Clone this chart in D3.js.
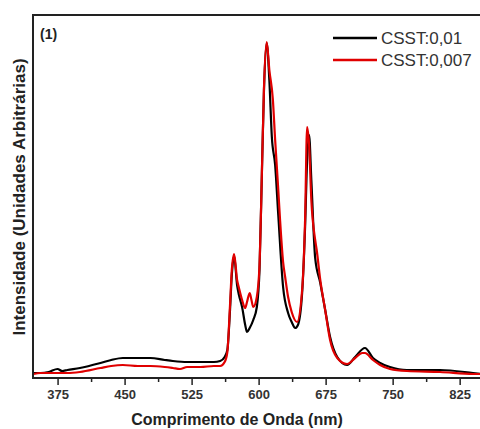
<!DOCTYPE html>
<html>
<head>
<meta charset="utf-8">
<script src="https://cdn.jsdelivr.net/npm/d3@7"></script>
<style>
  body { margin: 0; background: #fff; }
  svg { display: block; font-family: "Liberation Sans", Arial, sans-serif; }
</style>
</head>
<body>
<svg id="chart" width="480" height="429"></svg>
<script>
// wavelengths (nm) and intensities (arbitrary units)
var wlBlack = [348, 356, 365, 375, 380, 386, 400, 423, 435, 448, 465, 479, 495, 504, 520, 535, 550, 557, 562, 565, 568, 570, 572.6, 575.9, 578, 581.5, 585, 587, 590, 594, 598, 601, 604, 606, 609, 612, 614.8, 618.5, 622, 627.4, 633, 637, 641, 644, 648.7, 652, 654.3, 656.5, 659, 663.3, 669, 674.5, 680, 688, 699, 708, 719, 728, 736, 747, 766, 803, 840, 850];
var intBlack = [5, 5, 6, 9, 7, 8, 10, 15, 18, 20, 20, 20, 18, 17, 16, 16, 16, 17, 21, 28, 68, 103, 122, 93, 83, 71, 53, 46, 50, 58, 71, 108, 218, 288, 335, 298, 241, 213, 163, 91, 65, 56, 50, 53, 85, 151, 218, 243, 198, 120, 95, 68, 41, 21, 13, 21, 30, 20, 15, 11, 8, 8, 5, 4];

var wlRed = [348, 356, 375, 386, 400, 423, 435, 448, 465, 479, 495, 504, 512, 520, 535, 550, 557, 562, 565, 568, 570, 572.6, 575.9, 578, 581.5, 584.9, 587, 590, 592, 594, 598, 601, 604, 606, 609, 612, 615.9, 618.5, 622, 624, 627.4, 629.7, 633, 637, 643, 648.7, 652, 654.3, 656.5, 659, 663.3, 665, 669, 674.5, 680, 688, 699, 708, 716, 719, 728, 736, 747, 766, 803, 840, 850];
var intRed = [4, 5, 5, 5, 6, 10, 12, 13, 12, 12, 11, 10, 9, 11, 11, 12, 12, 16, 26, 73, 108, 124, 98, 90, 78, 70, 76, 85, 78, 71, 81, 113, 218, 290, 336, 308, 279, 238, 188, 158, 116, 101, 81, 66, 56, 88, 158, 251, 233, 178, 138, 128, 98, 68, 38, 20, 14, 20, 25, 25, 18, 13, 9, 7, 6, 4, 4];

var majorTicks = [375, 450, 525, 600, 675, 750, 825];
var minorTicks = [412.5, 487.5, 562.5, 637.5, 712.5, 787.5];
var seriesNames = ["CSST:0,01", "CSST:0,007"];
var seriesColors = ["#000000", "#e00000"];

var svg = d3.select("#chart");

var mLeft = 33, mTop = 15, mRight = 482, mBottom = 378;

var x = d3.scaleLinear().domain([347.5, 850]).range([mLeft, mRight]);
var y = d3.scaleLinear().domain([0, 363]).range([mBottom, mTop]);

var line = d3.line()
  .curve(d3.curveMonotoneX)
  .x(function(d) { return x(d[0]); })
  .y(function(d) { return y(d[1]); });

var series = [
  d3.zip(wlBlack, intBlack),
  d3.zip(wlRed, intRed)
];

svg.append("defs").append("clipPath").attr("id", "plotClip")
  .append("rect")
  .attr("x", mLeft).attr("y", mTop)
  .attr("width", mRight - mLeft).attr("height", mBottom - mTop);

series.forEach(function(s, i) {
  svg.append("path")
    .datum(s)
    .attr("clip-path", "url(#plotClip)")
    .attr("fill", "none")
    .attr("stroke", seriesColors[i])
    .attr("stroke-width", 2.2)
    .attr("stroke-linejoin", "round")
    .attr("d", line);
});

// frame (right side falls off the picture)
svg.append("path")
  .attr("d", "M" + mRight + "," + mTop + "H" + mLeft + "V" + mBottom + "H" + mRight)
  .attr("fill", "none")
  .attr("stroke", "#222")
  .attr("stroke-width", 2);

// bottom axis
var xAxis = svg.append("g")
  .attr("transform", "translate(0," + mBottom + ")")
  .call(d3.axisBottom(x).tickValues(majorTicks).tickSize(7).tickPadding(5));
xAxis.select(".domain").remove();
xAxis.selectAll(".tick line").attr("stroke", "#222").attr("stroke-width", 1.5);
xAxis.selectAll(".tick text")
  .attr("font-family", "Liberation Sans, Arial, sans-serif")
  .attr("font-size", 13)
  .attr("font-weight", "bold")
  .attr("fill", "#333");

var xMinor = svg.append("g")
  .attr("transform", "translate(0," + mBottom + ")")
  .call(d3.axisBottom(x).tickValues(minorTicks).tickSize(4).tickFormat(""));
xMinor.select(".domain").remove();
xMinor.selectAll(".tick line").attr("stroke", "#222").attr("stroke-width", 1.5);

// titles
svg.append("text")
  .attr("x", 237).attr("y", 425)
  .attr("text-anchor", "middle")
  .attr("font-size", 16)
  .attr("font-weight", "bold")
  .attr("fill", "#222")
  .text("Comprimento de Onda (nm)");

svg.append("text")
  .attr("transform", "translate(25,197) rotate(-90)")
  .attr("text-anchor", "middle")
  .attr("font-size", 17)
  .attr("font-weight", "bold")
  .attr("fill", "#222")
  .text("Intensidade (Unidades Arbitrárias)");

svg.append("text")
  .attr("x", 40).attr("y", 39)
  .attr("font-size", 14)
  .attr("font-weight", "bold")
  .attr("fill", "#222")
  .text("(1)");

// legend
seriesNames.forEach(function(name, i) {
  var ly = 38 + i * 22;
  svg.append("line")
    .attr("x1", 333).attr("x2", 377)
    .attr("y1", ly).attr("y2", ly)
    .attr("stroke", seriesColors[i])
    .attr("stroke-width", 2.5);
  svg.append("text")
    .attr("x", 381).attr("y", ly + 6)
    .attr("font-size", 17)
    .attr("fill", "#333")
    .text(name);
});
</script>
</body>
</html>
